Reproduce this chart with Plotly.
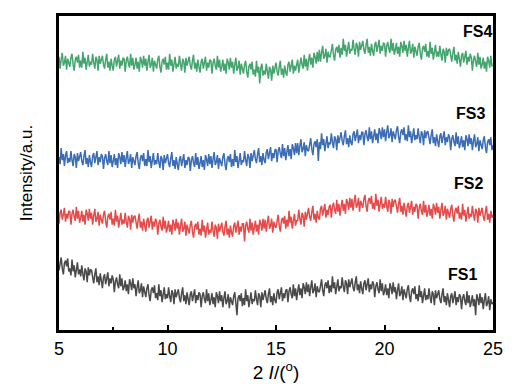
import plotly.graph_objects as go

# 2-theta grid (degrees), 0.05 deg step
two_theta = [round(5 + 0.05 * i, 2) for i in range(401)]

fs4 = [275,263,272,279,266,269,276,262,273,268,
       265,274,278,267,261,272,275,269,277,264,
       271,264,280,268,274,262,273,277,265,270,
       267,278,269,263,275,272,261,276,268,274,
       276,267,263,272,278,264,270,261,273,266,
       261,272,275,265,270,277,263,271,266,274,
       273,260,271,275,268,264,278,266,274,262,
       267,274,263,270,260,275,271,264,276,266,
       273,261,270,277,264,267,274,260,271,266,
       263,272,276,265,259,270,273,267,275,262,
       269,262,278,266,272,260,271,275,263,268,
       265,276,267,261,273,270,259,274,266,272,
       275,266,262,271,277,263,269,260,272,265,
       259,270,273,263,268,275,261,269,264,272,
       271,258,269,273,266,262,276,264,272,260,
       265,272,261,268,258,273,269,262,274,264,
       270,258,267,274,261,264,271,257,268,263,
       258,267,271,260,254,265,268,262,270,257,
       262,255,271,259,265,248,264,268,256,261,
       257,268,259,253,265,262,251,266,258,264,
       269,260,256,265,271,257,263,254,266,259,
       256,267,270,260,265,272,258,266,261,269,
       272,259,270,274,267,263,277,265,273,261,
       271,278,267,274,264,279,275,268,280,270,
       282,270,279,286,273,276,283,269,280,275,
       275,284,288,277,271,282,285,279,287,274,
       284,277,293,281,287,275,286,290,278,283,
       281,292,283,277,289,286,275,290,282,288,
       291,282,278,287,293,279,285,276,288,281,
       276,287,290,280,285,292,278,286,281,289,
       288,275,286,290,283,279,293,281,289,277,
       282,289,278,285,275,290,286,279,291,281,
       287,275,284,291,278,281,288,274,285,280,
       276,285,289,278,272,283,286,280,288,275,
       281,274,290,278,284,272,283,287,275,280,
       275,286,277,271,283,280,269,284,276,282,
       283,274,270,279,285,271,277,268,280,273,
       265,276,279,269,274,281,267,275,270,278,
       274,261,272,276,269,265,279,267,275,263,
       267,274,263,270,260,275,271,264,276,266,
       266]

fs3 = [174,167,183,171,177,165,176,180,168,173,
       169,180,171,165,177,174,163,178,170,176,
       179,170,166,175,181,167,173,164,176,169,
       164,175,178,168,173,180,166,174,169,177,
       175,162,173,177,170,166,180,168,176,164,
       170,177,166,173,163,178,174,167,179,169,
       176,164,173,180,167,170,177,163,174,169,
       166,175,179,168,162,173,176,170,178,165,
       172,165,181,169,175,163,174,178,166,171,
       167,178,169,163,175,172,161,176,168,174,
       177,168,164,173,179,165,171,162,174,167,
       161,172,175,165,170,177,163,171,166,174,
       173,160,171,175,168,164,178,166,174,162,
       168,175,164,171,161,176,172,165,177,167,
       175,163,172,179,166,169,176,162,173,168,
       165,174,178,167,161,172,175,169,177,164,
       172,165,181,169,175,163,174,178,166,171,
       169,180,171,165,177,174,163,178,170,176,
       181,172,168,177,183,169,175,166,178,171,
       168,179,182,172,177,184,170,178,173,181,
       182,169,180,184,177,173,187,175,183,171,
       179,186,175,182,172,187,183,176,188,178,
       188,176,185,192,179,182,189,175,186,181,
       180,189,193,182,176,187,190,184,192,170,
       189,182,198,186,192,180,191,195,183,188,
       187,198,189,183,195,192,181,196,188,194,
       199,190,186,195,201,187,193,184,196,189,
       186,197,200,190,195,202,188,196,191,199,
       199,186,197,201,194,190,204,192,200,188,
       195,202,191,198,188,203,199,192,204,194,
       202,190,199,206,193,196,203,189,200,195,
       192,201,205,194,188,199,202,196,204,191,
       197,190,206,194,200,188,199,203,191,196,
       192,203,194,188,200,197,186,201,193,199,
       200,191,187,196,202,188,194,185,197,190,
       184,195,198,188,193,200,186,194,189,197,
       194,181,192,196,189,185,199,187,195,183,
       188,195,184,191,181,196,192,185,197,187,
       193,181,190,197,184,187,194,180,191,186,
       182,191,195,184,178,189,192,186,194,181,
       186]

fs2 = [107,118,121,111,116,123,109,117,112,120,
       119,106,117,121,114,110,124,112,120,108,
       113,120,109,116,106,121,117,110,122,112,
       118,106,115,122,109,112,119,105,116,111,
       107,116,120,109,103,114,117,111,119,106,
       112,105,121,109,115,103,114,118,106,111,
       107,118,109,103,115,112,101,116,108,114,
       115,106,102,111,117,103,109,100,112,105,
       99,110,113,103,108,115,101,109,104,112,
       109,96,107,111,104,100,114,102,110,98,
       103,110,99,106,96,111,107,100,112,102,
       108,96,105,112,99,102,109,95,106,101,
       97,106,110,99,93,104,107,101,109,96,
       102,95,111,99,105,93,104,108,96,101,
       98,109,100,94,106,103,92,107,99,105,
       108,99,95,104,110,96,102,93,105,98,
       94,105,108,98,103,110,96,104,99,107,
       107,89,105,109,102,98,112,100,108,96,
       103,110,99,106,96,111,107,100,112,102,
       111,99,108,115,102,105,112,98,109,104,
       103,112,116,105,99,110,113,107,115,102,
       111,104,120,108,114,102,113,117,105,110,
       110,121,112,106,118,115,104,119,111,117,
       123,114,110,119,125,111,117,108,120,113,
       111,122,125,115,120,127,113,121,116,124,
       126,113,124,128,121,117,131,119,127,115,
       124,131,120,127,117,132,128,121,133,123,
       132,120,129,136,123,126,133,119,130,125,
       123,132,136,125,119,130,133,127,135,122,
       128,121,137,125,131,119,130,134,122,127,
       123,134,125,119,131,128,117,132,124,130,
       131,122,118,127,133,119,125,116,128,121,
       114,125,128,118,123,130,116,124,119,127,
       125,112,123,127,120,116,130,118,126,114,
       119,126,115,122,112,127,123,116,128,118,
       124,112,121,128,115,118,125,111,122,117,
       113,122,126,115,109,120,123,117,125,112,
       118,111,127,115,121,109,120,124,112,117,
       114,125,116,110,122,119,108,123,115,121,
       123,114,110,119,125,111,117,108,120,113,
       116]

fs1 = [60,69,73,62,56,67,70,64,72,59,
       62,55,71,59,65,53,64,68,56,61,
       54,65,56,50,62,59,48,63,55,61,
       60,51,47,56,62,48,54,45,57,50,
       42,53,56,46,51,58,44,52,47,55,
       51,38,49,53,46,42,56,44,52,40,
       43,50,39,46,36,51,47,40,52,42,
       46,34,43,50,37,40,47,33,44,39,
       33,42,46,35,29,40,43,37,45,32,
       37,30,46,34,40,28,39,43,31,36,
       32,43,34,28,40,37,26,41,33,39,
       41,32,28,37,43,29,35,26,38,31,
       25,36,39,29,34,41,27,35,30,38,
       36,23,34,38,31,27,41,29,37,25,
       30,37,26,33,23,38,34,27,39,29,
       35,23,32,39,26,29,36,22,33,28,
       25,34,38,27,15,32,35,29,37,24,
       32,25,41,29,35,23,34,38,26,31,
       29,40,31,25,37,34,23,38,30,36,
       40,31,27,36,42,28,34,25,37,30,
       27,38,41,31,36,43,29,37,32,40,
       41,28,39,43,36,32,46,34,42,30,
       39,46,35,42,32,47,43,36,48,38,
       46,34,43,50,37,40,47,33,44,39,
       38,47,51,40,34,45,48,42,50,37,
       45,38,54,42,48,36,47,51,39,44,
       42,53,44,38,50,47,36,51,43,49,
       52,43,39,48,54,40,46,37,49,42,
       36,47,50,40,45,52,38,46,41,49,
       46,33,44,48,41,37,51,39,47,35,
       39,46,35,42,32,47,43,36,48,38,
       43,31,40,47,34,37,44,30,41,36,
       32,41,45,34,28,39,42,36,44,31,
       36,29,45,33,39,27,38,42,30,35,
       31,42,33,27,39,36,25,40,32,38,
       40,31,27,36,42,28,34,25,37,30,
       23,34,37,27,32,39,25,33,28,36,
       34,21,32,36,29,25,39,27,35,23,
       28,35,24,31,15,36,32,25,37,27,
       33,21,30,37,24,27,34,20,31,26,
       28]

series_names = ["FS1", "FS2", "FS3", "FS4"]
series_values = [fs1, fs2, fs3, fs4]
colors = ["#4a4a4a", "#e64b4b", "#3b6cb4", "#44a56e"]
label_x = [23.6, 23.85, 23.94, 24.3]
label_y = [56, 147, 218, 300]
x_ticks = [5, 10, 15, 20, 25]

fig = go.Figure()
for name, vals, col in zip(series_names, series_values, colors):
    fig.add_trace(go.Scatter(x=two_theta, y=vals, mode="lines", name=name,
                             line=dict(color=col, width=1.5), showlegend=False))

for name, lx, ly in zip(series_names, label_x, label_y):
    fig.add_annotation(x=lx, y=ly, text="<b>" + name + "</b>", showarrow=False,
                       font=dict(family="Arial, Liberation Sans", size=16, color="black"))

fig.update_layout(
    width=521, height=382,
    margin=dict(l=51, r=36, t=5, b=60),
    paper_bgcolor="white", plot_bgcolor="white",
    font=dict(family="Arial, Liberation Sans", color="black"),
)
fig.update_xaxes(range=[5, 25], tickvals=x_ticks, ticks="inside", ticklen=5, tickwidth=2,
                 tickcolor="black", showline=True, linewidth=3, linecolor="black", mirror=True,
                 showgrid=False, zeroline=False, tickfont=dict(size=18),
                 minor=dict(tickvals=[7.5, 12.5, 17.5, 22.5], ticks="inside", ticklen=3,
                            tickwidth=2, tickcolor="black"),
                 title=dict(text="2 <i>I</i>/(<sup>o</sup>)", font=dict(size=19), standoff=9))
fig.update_yaxes(range=[0, 316], showticklabels=False, ticks="", showline=True, linewidth=3,
                 linecolor="black", mirror=True, showgrid=False, zeroline=False,
                 title=dict(text="Intensity/a.u.", font=dict(size=17), standoff=20))

fig.write_html("out.html")
